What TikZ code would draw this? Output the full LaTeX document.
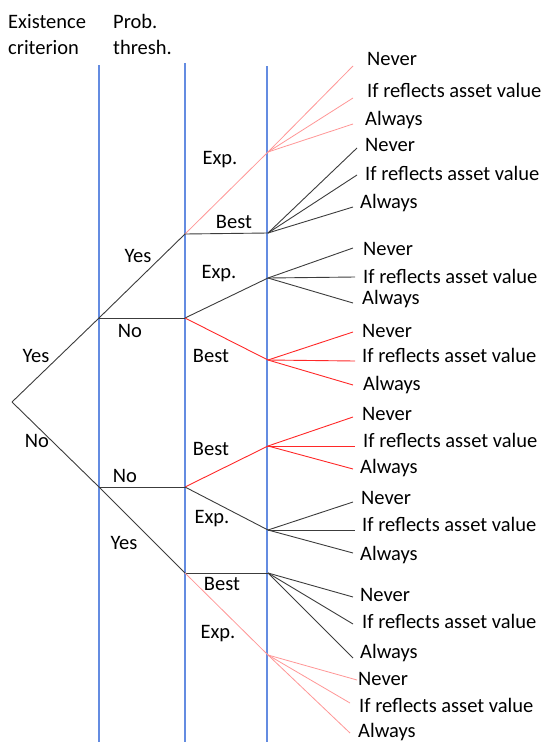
\documentclass[tikz,border=0pt]{standalone}
\usepackage{fontspec}
\setmainfont{Carlito}
\usetikzlibrary{positioning}
\definecolor{guideblue}{RGB}{100,140,225}
\definecolor{bestred}{RGB}{255,40,40}
\definecolor{exppink}{RGB}{255,150,150}
\definecolor{treegray}{RGB}{60,60,60}
\tikzset {
    every node/.style={font=\fontsize{20.5}{26}\selectfont, inner sep=0pt},
    line cap=round
}

\begin{document}
\begin{tikzpicture}[
x=1pt, y=-1pt,
  guide/.style={color=guideblue, line width=1.1pt},
  branch/.style={color=treegray, line width=0.9pt},
  redbranch/.style={color=bestred, line width=0.9pt},
  pinkbranch/.style={color=exppink, line width=0.8pt},
  lbl/.style={anchor=base},
  leaf/.style={anchor=base west}
  ]
\useasboundingbox (0,0) rectangle (545,742);

% column guides
\draw[guide] (99,65) -- (99,742);
\draw[guide] (185,63) -- (185,742);
\draw[guide] (267,66) -- (267,742);

\node[leaf, align=left] (crit) at (8,54) {Existence\\criterion};
\node[leaf, align=left] (prob) at (113,54) {Prob.\\thresh.};

% branch points
\coordinate (root) at (12,402);
\coordinate (y) at (99,318);
\coordinate (n) at (99,487);
\coordinate (yy) at (185,234);
\coordinate (yn) at (185,318);
\coordinate (nn) at (185,487);
\coordinate (ny) at (185,573);
\coordinate (yye) at (268,152);
\coordinate (yyb) at (268,233);
\coordinate (yne) at (268,278);
\coordinate (ynb) at (268,360);
\coordinate (nnb) at (268,446);
\coordinate (nne) at (268,530);
\coordinate (nyb) at (268,573);
\coordinate (nye) at (268,655);

\draw[branch] (root) -- (y);
\draw[branch] (root) -- (n);
\draw[branch] (y) -- (yy);
\draw[branch] (y) -- (yn);
\draw[branch] (n) -- (nn);
\draw[branch] (n) -- (ny);
\draw[pinkbranch] (yy) -- (yye);
\draw[branch] (yy) -- (yyb);
\draw[branch] (yn) -- (yne);
\draw[redbranch] (yn) -- (ynb);
\draw[redbranch] (nn) -- (nnb);
\draw[branch] (nn) -- (nne);
\draw[branch] (ny) -- (nyb);
\draw[pinkbranch] (ny) -- (nye);

\node[lbl] (ly) at (36,362) {Yes};
\node[lbl] (ln) at (37,447) {No};
\node[lbl] (lyy) at (138,262) {Yes};
\node[lbl] (lyn) at (130,337) {No};
\node[lbl] (lnn) at (125,482) {No};
\node[lbl] (lny) at (124,549) {Yes};
\node[lbl] (lyye) at (220,164) {Exp.};
\node[lbl] (lyyb) at (234,228) {Best};
\node[lbl] (lyne) at (219,278) {Exp.};
\node[lbl] (lynb) at (211,362) {Best};
\node[lbl] (lnnb) at (211,455) {Best};
\node[lbl] (lnne) at (212,523) {Exp.};
\node[lbl] (lnyb) at (222,590) {Best};
\node[lbl] (lnye) at (218,638) {Exp.};

% leaves
\coordinate (yye1) at (353,66);  \node[leaf] (yye1l) at (367,65) {Never};
\coordinate (yye2) at (353,98);  \node[leaf] (yye2l) at (367,97) {If reflects asset value};
\coordinate (yye3) at (353,124); \node[leaf] (yye3l) at (365,125) {Always};
\draw[pinkbranch] (yye) -- (yye1);
\draw[pinkbranch] (yye) -- (yye2);
\draw[pinkbranch] (yye) -- (yye3);

\coordinate (yyb1) at (357,148); \node[leaf] (yyb1l) at (365,151) {Never};
\coordinate (yyb2) at (357,175); \node[leaf] (yyb2l) at (365,180) {If reflects asset value};
\coordinate (yyb3) at (353,207); \node[leaf] (yyb3l) at (360,208) {Always};
\draw[branch] (yyb) -- (yyb1);
\draw[branch] (yyb) -- (yyb2);
\draw[branch] (yyb) -- (yyb3);

\coordinate (yne1) at (353,248); \node[leaf] (yne1l) at (363,255) {Never};
\coordinate (yne2) at (355,277); \node[leaf] (yne2l) at (363,283) {If reflects asset value};
\coordinate (yne3) at (353,303); \node[leaf] (yne3l) at (362,304) {Always};
\draw[branch] (yne) -- (yne1);
\draw[branch] (yne) -- (yne2);
\draw[branch] (yne) -- (yne3);

\coordinate (ynb1) at (353,332); \node[leaf] (ynb1l) at (362,337) {Never};
\coordinate (ynb2) at (355,361); \node[leaf] (ynb2l) at (362,362) {If reflects asset value};
\coordinate (ynb3) at (353,385); \node[leaf] (ynb3l) at (363,390) {Always};
\draw[redbranch] (ynb) -- (ynb1);
\draw[redbranch] (ynb) -- (ynb2);
\draw[redbranch] (ynb) -- (ynb3);

\coordinate (nnb1) at (353,417); \node[leaf] (nnb1l) at (362,420) {Never};
\coordinate (nnb2) at (355,446); \node[leaf] (nnb2l) at (363,447) {If reflects asset value};
\coordinate (nnb3) at (353,469); \node[leaf] (nnb3l) at (360,473) {Always};
\draw[redbranch] (nnb) -- (nnb1);
\draw[redbranch] (nnb) -- (nnb2);
\draw[redbranch] (nnb) -- (nnb3);

\coordinate (nne1) at (353,502); \node[leaf] (nne1l) at (361,504) {Never};
\coordinate (nne2) at (355,530); \node[leaf] (nne2l) at (362,531) {If reflects asset value};
\coordinate (nne3) at (353,553); \node[leaf] (nne3l) at (360,560) {Always};
\draw[branch] (nne) -- (nne1);
\draw[branch] (nne) -- (nne2);
\draw[branch] (nne) -- (nne3);

\coordinate (nyb1) at (353,597); \node[leaf] (nyb1l) at (360,601) {Never};
\coordinate (nyb2) at (353,624); \node[leaf] (nyb2l) at (362,628) {If reflects asset value};
\coordinate (nyb3) at (353,658); \node[leaf] (nyb3l) at (360,658) {Always};
\draw[branch] (nyb) -- (nyb1);
\draw[branch] (nyb) -- (nyb2);
\draw[branch] (nyb) -- (nyb3);

\coordinate (nye1) at (357,680); \node[leaf] (nye1l) at (358,685) {Never};
\coordinate (nye2) at (350,703); \node[leaf] (nye2l) at (359,712) {If reflects asset value};
\coordinate (nye3) at (350,733); \node[leaf] (nye3l) at (358,737) {Always};
\draw[pinkbranch] (nye) -- (nye1);
\draw[pinkbranch] (nye) -- (nye2);
\draw[pinkbranch] (nye) -- (nye3);

\end{tikzpicture}
\end{document}
